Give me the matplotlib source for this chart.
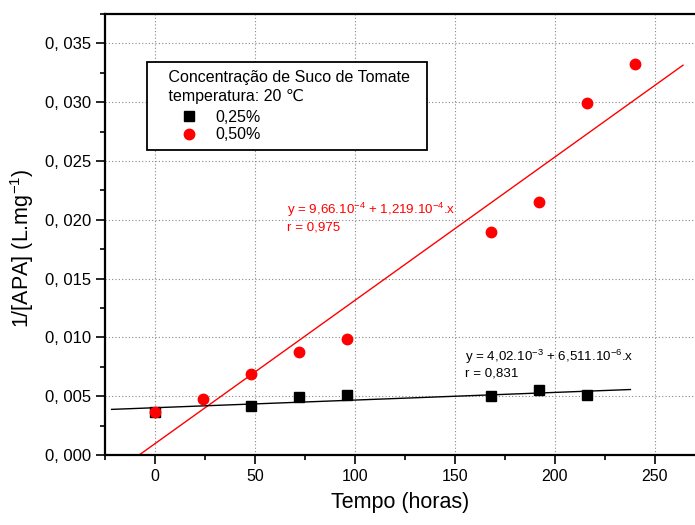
import matplotlib
matplotlib.use("Agg")
import matplotlib.pyplot as plt
import numpy as np
from matplotlib.ticker import MultipleLocator, FuncFormatter

plt.rcParams['font.family'] = ['Liberation Sans', 'DejaVu Sans']

# Data
tempo_025 = [0, 48, 72, 96, 168, 192, 216]
apa_025 = [0.00362, 0.00419, 0.00490, 0.00512, 0.00498, 0.00549, 0.00510]
tempo_050 = [0, 24, 48, 72, 96, 168, 192, 216, 240]
apa_050 = [0.00362, 0.00476, 0.00688, 0.00875, 0.00988, 0.01894, 0.02152, 0.02995, 0.03328]

# Fits (from the annotations)
fit_050 = (9.66e-4, 1.219e-4)
fit_025 = (4.02e-3, 6.511e-6)
fit_050_range = (-7.9, 264)
fit_025_range = (-21.7, 237.7)

fig = plt.figure(figsize=(6.95, 5.25), dpi=100)
ax = fig.add_axes([105/695, 70/525, 590/695, 441/525])

xx = np.linspace(*fit_050_range, 2)
ax.plot(xx, fit_050[0] + fit_050[1]*xx, color='red', lw=1.0, zorder=2)
xx = np.linspace(*fit_025_range, 2)
ax.plot(xx, fit_025[0] + fit_025[1]*xx, color='black', lw=1.0, zorder=2)

ax.plot(tempo_025, apa_025, 's', color='black', ms=7, label='0,25%', zorder=3)
ax.plot(tempo_050, apa_050, 'o', color='red', ms=7.5, mec='red', label='0,50%', zorder=4)

ax.set_xlim(-25, 270)
ax.set_ylim(0, 0.0375)
ax.xaxis.set_major_locator(MultipleLocator(50))
ax.xaxis.set_minor_locator(MultipleLocator(25))
ax.yaxis.set_major_locator(MultipleLocator(0.005))
ax.yaxis.set_minor_locator(MultipleLocator(0.0025))
ax.yaxis.set_major_formatter(FuncFormatter(lambda v, p: f"{v:.3f}".replace('.', ', ')))
ax.tick_params(which='major', direction='out', length=6.5, width=1.2)
ax.tick_params(axis='x', labelsize=11.5)
ax.tick_params(axis='y', labelsize=12)
ax.tick_params(which='minor', direction='out', length=3.5, width=1.2)
ax.grid(True, which='major', color='#888888', linestyle=(0, (1, 2)), lw=0.8)
ax.set_axisbelow(True)
for s in ['left', 'bottom', 'top']:
    ax.spines[s].set_linewidth(1.6)
ax.spines['right'].set_visible(False)

ax.set_xlabel('Tempo (horas)', fontsize=15.5, labelpad=6)
ax.set_ylabel('1/[APA] (L.mg$^{\\mathregular{-1}}$)', fontsize=15.5, labelpad=8)
ax.yaxis.set_label_coords(-0.117, 0.47)

ax.text(66, 0.0202, 'y = 9,66.10$^{\\mathregular{-4}}$ + 1,219.10$^{\\mathregular{-4}}$.x\nr = 0,975',
        color='red', fontsize=9.6, linespacing=1.25, va='center', ha='left')
ax.text(155, 0.00776, 'y = 4,02.10$^{\\mathregular{-3}}$ + 6,511.10$^{\\mathregular{-6}}$.x\nr = 0,831',
        color='black', fontsize=9.6, linespacing=1.25, va='center', ha='left')

leg = ax.legend(title='   Concentração de Suco de Tomate  \n   temperatura: 20 \u2103',
                loc='upper left', bbox_to_anchor=((147-105)/590, (455-62)/441),
                fontsize=11.5, title_fontsize=11.5, alignment='left',
                frameon=True, fancybox=False, edgecolor='black', framealpha=1,
                handlelength=4.25, handletextpad=-0.5, borderpad=0.5,
                labelspacing=0.15, borderaxespad=0)
leg.get_title().set_linespacing(1.3)
leg._legend_box.sep = 4.5
leg.get_frame().set_linewidth(1.3)

fig.savefig('out.png', dpi=100)
